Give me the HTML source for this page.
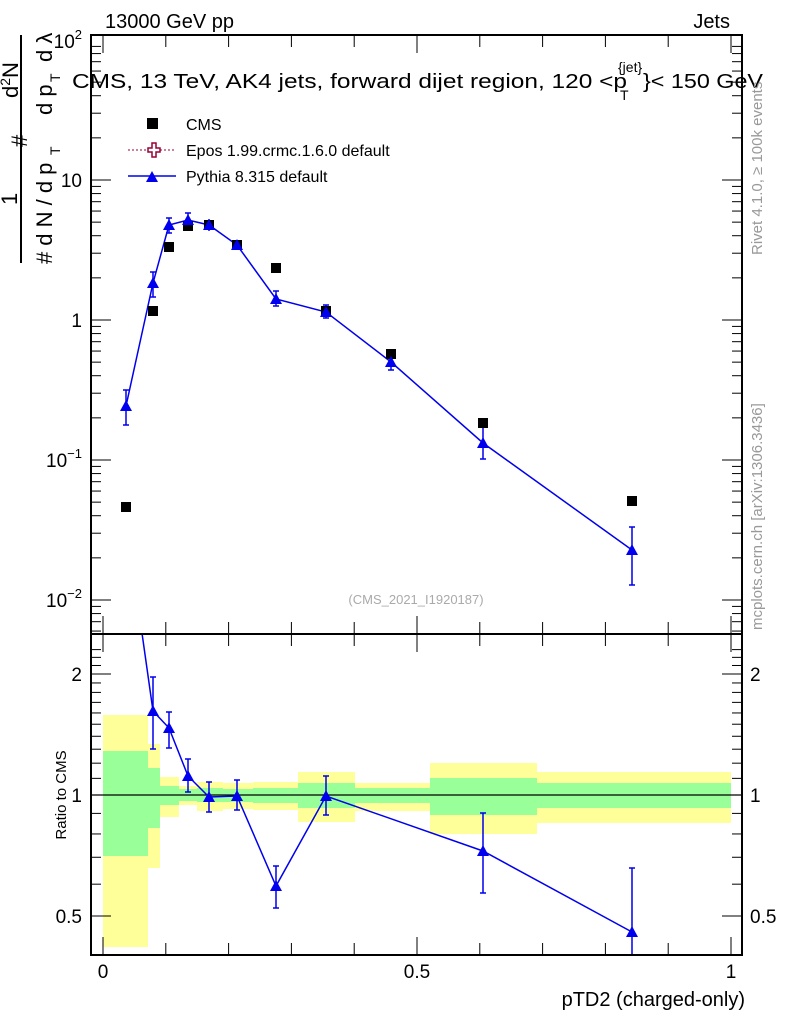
<!DOCTYPE html>
<html><head><meta charset="utf-8"><style>
body{margin:0;background:#fff}
svg{font-family:"Liberation Sans",sans-serif;display:block}
</style></head><body>
<svg id="s" width="786" height="1024" viewBox="0 0 786 1024" xmlns="http://www.w3.org/2000/svg">
<defs><clipPath id="cm"><rect x="91" y="35" width="651" height="599"/></clipPath>
<clipPath id="cr"><rect x="91" y="634" width="651" height="321"/></clipPath></defs>
<g clip-path="url(#cr)">
<g fill="#ffff99">
<rect x="103" y="715" width="45" height="232"/>
<rect x="148" y="744" width="12" height="124"/>
<rect x="160" y="777" width="19" height="40"/>
<rect x="179" y="786" width="18" height="19"/>
<rect x="197" y="782" width="26" height="29"/>
<rect x="223" y="783" width="30" height="26"/>
<rect x="253" y="782" width="45" height="28"/>
<rect x="298" y="772" width="57" height="50"/>
<rect x="355" y="783" width="75" height="28"/>
<rect x="430" y="763" width="107" height="71"/>
<rect x="537" y="772" width="194" height="51"/>
</g>
<g fill="#99ff99">
<rect x="103" y="751" width="45" height="105"/>
<rect x="148" y="768" width="12" height="60"/>
<rect x="160" y="786" width="19" height="19"/>
<rect x="179" y="789" width="18" height="12"/>
<rect x="197" y="788" width="26" height="14"/>
<rect x="223" y="789" width="30" height="13"/>
<rect x="253" y="788" width="45" height="15"/>
<rect x="298" y="783" width="57" height="25"/>
<rect x="355" y="788" width="75" height="15"/>
<rect x="430" y="778" width="107" height="37"/>
<rect x="537" y="783" width="194" height="25"/>
</g>
<line x1="91" y1="795" x2="742" y2="795" stroke="#000" stroke-width="1.3"/>
<g stroke="#0000ee" stroke-width="1.5" fill="none">
<polyline points="126,520 153,711 169,728 188,776 209,797 237,796 276,886 326,796 483,851 632,932"/>
<path d="M153,677V749M169,712V748M188,759V792M209,782V812M237,780V810M276,866V908M326,776V815M483,813V893M632,868V958"/>
<path d="M150,677h6M150,749h6M166,712h6M166,748h6M185,759h6M185,792h6M206,782h6M206,812h6M234,780h6M234,810h6M273,866h6M273,908h6M323,776h6M323,815h6M480,813h6M480,893h6M629,868h6"/>
</g>
<g fill="#0000ee" id="rtri"></g>
</g>
<g clip-path="url(#cm)">
<g stroke="#0000ee" stroke-width="1.5" fill="none">
<polyline points="126,406 153,283 169,225 188,220 209,225 237,245 276,299 326,312 391,362 483,443 632,550"/>
<path d="M126,390V425M153,272V297M169,218V233M188,213V227M209,219V231M276,291V306M326,305V318M391,355V370M483,425V459M632,527V585"/>
<path d="M123,390h6M123,425h6M150,272h6M150,297h6M166,218h6M166,233h6M185,213h6M185,227h6M273,291h6M273,306h6M323,305h6M323,318h6M388,355h6M388,370h6M480,425h6M480,459h6M629,527h6M629,585h6"/>
</g>
<g fill="#000">
<rect x="121" y="502" width="10" height="10"/><rect x="148" y="306" width="10" height="10"/>
<rect x="164" y="242" width="10" height="10"/><rect x="183" y="221" width="10" height="10"/>
<rect x="204" y="220" width="10" height="10"/><rect x="232" y="240" width="10" height="10"/>
<rect x="271" y="263" width="10" height="10"/><rect x="321" y="306" width="10" height="10"/>
<rect x="386" y="349" width="10" height="10"/><rect x="478" y="418" width="10" height="10"/>
<rect x="627" y="496" width="10" height="10"/>
</g>
<g fill="#0000ee" id="mtri"></g>
</g>
<g id="ticks" stroke="#000" stroke-width="1"></g>
<rect x="91" y="35" width="651" height="599" fill="none" stroke="#000" stroke-width="2"/>
<rect x="91" y="634" width="651" height="321" fill="none" stroke="#000" stroke-width="2"/>
<text x="105" y="28" font-size="20">13000 GeV pp</text>
<text x="730" y="28" font-size="20" text-anchor="end">Jets</text>
<text x="72" y="88" font-size="20" textLength="555" lengthAdjust="spacingAndGlyphs">CMS, 13 TeV, AK4 jets, forward dijet region, 120 &lt;p</text>
<text x="618" y="72" font-size="14">{jet}</text><text x="620" y="100" font-size="14">T</text>
<text x="643" y="88" font-size="20" textLength="120" lengthAdjust="spacingAndGlyphs">}&lt; 150 GeV</text>
<rect x="147" y="118" width="11" height="11" fill="#000"/>
<text x="186" y="130" font-size="16">CMS</text>
<line x1="128" y1="150" x2="176" y2="150" stroke="#990033" stroke-dasharray="2,2"/>
<path d="M148,145h4v-5h4v5h4v4h-4v5h-4v-5h-4z" transform="translate(0,3)" fill="#fff" stroke="#990033" stroke-width="1.5"/>
<text x="186" y="156" font-size="16">Epos 1.99.crmc.1.6.0 default</text>
<line x1="128" y1="176" x2="176" y2="176" stroke="#0000ee" stroke-width="1.5"/>
<path d="M146,182l6,-11l6,11z" fill="#0000ee"/>
<text x="186" y="182" font-size="16">Pythia 8.315 default</text>
<text x="416" y="604" font-size="13" fill="#aaa" text-anchor="middle">(CMS_2021_I1920187)</text>
<g font-size="19" text-anchor="end">
<text x="82" y="48">10<tspan font-size="13" dy="-9">2</tspan></text>
<text x="82" y="187">10</text>
<text x="82" y="327">1</text>
<text x="82" y="467">10<tspan font-size="13" dy="-9">−1</tspan></text>
<text x="82" y="607">10<tspan font-size="13" dy="-9">−2</tspan></text>
<text x="82" y="681">2</text><text x="82" y="802">1</text><text x="82" y="923">0.5</text>
</g>
<g font-size="19">
<text x="750" y="681">2</text><text x="750" y="802">1</text><text x="750" y="923">0.5</text>
</g>
<g font-size="19" text-anchor="middle">
<text x="103" y="978">0</text><text x="417" y="978">0.5</text><text x="731" y="978">1</text>
</g>
<text x="745" y="1006" font-size="20" text-anchor="end">pTD2 (charged-only)</text>
<text transform="translate(66,795) rotate(-90)" font-size="15" text-anchor="middle">Ratio to CMS</text>
<line x1="21" y1="35" x2="21" y2="263" stroke="#000" stroke-width="2"/>
<g font-size="22">
<text transform="translate(52,264) rotate(-90)">#<tspan dx="6">d N / d p</tspan></text>
<text transform="translate(60,155) rotate(-90)" font-size="14">T</text>
<text transform="translate(17,205) rotate(-90)">1</text>
<text transform="translate(27,147) rotate(-90)">#</text>
<text transform="translate(18,98) rotate(-90)">d<tspan font-size="14" dy="-8">2</tspan><tspan dy="8">N</tspan></text>
<text transform="translate(52,115) rotate(-90)">d p</text>
<text transform="translate(60,82) rotate(-90)" font-size="14">T</text>
<text transform="translate(52,62) rotate(-90)">d λ</text>
</g>
<text transform="translate(762,255) rotate(-90)" font-size="15" fill="#999">Rivet 4.1.0, ≥ 100k events</text>
<text transform="translate(762,630) rotate(-90)" font-size="15" fill="#999">mcplots.cern.ch [arXiv:1306.3436]</text>
</svg>
<script>
const NS="http://www.w3.org/2000/svg",t=document.getElementById("ticks");
function L(a,b,c,d){const l=document.createElementNS(NS,"line");l.setAttribute("x1",a);l.setAttribute("y1",b);l.setAttribute("x2",c);l.setAttribute("y2",d);t.appendChild(l);}
for(let i=0;i<=20;i++){const x=103+628*i/20,len=i%10==0?18:(i%2==0?12:0);if(!len)continue;
L(x,35,x,35+len);L(x,634,x,634-len);L(x,634,x,634+len);L(x,955,x,955-len);}
for(let e=-3;e<2;e++)for(let k=1;k<10;k++){const y=320-140*(e+Math.log10(k));if(y<35||y>634)continue;const len=k==1?20:10;L(91,y,91+len,y);L(742,y,742-len,y);}
for(let v=0.4;v<=2.4;v+=0.1){const y=795-121*Math.log2(v);if(y<634||y>955)continue;const maj=Math.abs(v-1)<.01||Math.abs(v-2)<.01||Math.abs(v-.5)<.01;const len=maj?20:10;L(91,y,91+len,y);L(742,y,742-len,y);}
function tri(g,pts){const G=document.getElementById(g);pts.forEach(([x,y])=>{const p=document.createElementNS(NS,"path");p.setAttribute("d",`M${x-6},${y+5}L${x},${y-6}L${x+6},${y+5}Z`);G.appendChild(p);});}
tri("mtri",[[126,406],[153,283],[169,225],[188,220],[209,225],[237,245],[276,299],[326,312],[391,362],[483,443],[632,550]]);
tri("rtri",[[153,711],[169,728],[188,776],[209,797],[237,796],[276,886],[326,796],[483,851],[632,932]]);
</script>
</body></html>
